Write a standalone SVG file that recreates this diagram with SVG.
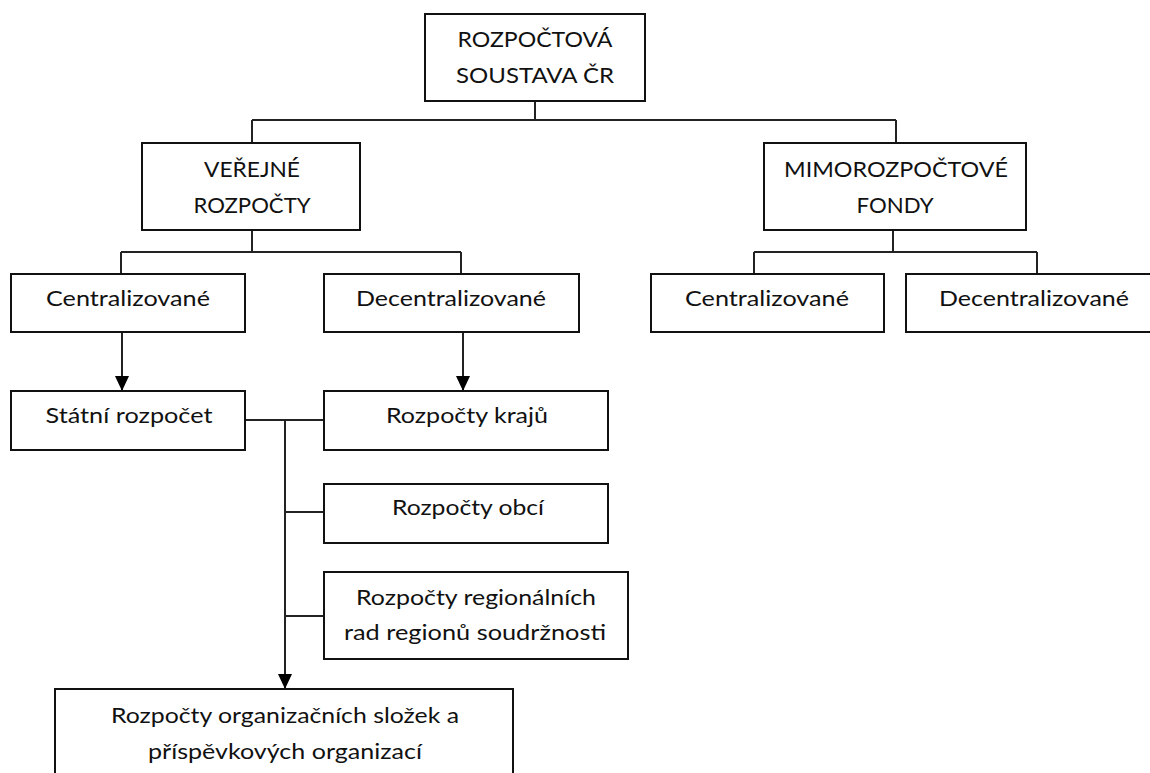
<svg xmlns="http://www.w3.org/2000/svg" width="1150" height="773" viewBox="0 0 1150 773">
<style>
.box{fill:#fff;stroke:#111;stroke-width:2}
.ln{fill:none;stroke:#222;stroke-width:2}
text{font-family:Lato,"Open Sans","Liberation Sans",sans-serif;font-size:22px;fill:#111;text-anchor:middle}
</style>
<defs>
<marker id="arr" viewBox="0 0 15 14" refX="15" refY="7" markerWidth="15" markerHeight="14" markerUnits="userSpaceOnUse" orient="auto">
<path d="M0,0 L15,7 L0,14 z" fill="#000"/>
</marker>
</defs>
<rect width="1150" height="773" fill="#fff"/>
<g id="connectors">
<path class="ln" d="M535,101 V120 M252,120 H896 M252,120 V143 M896,120 V143"/>
<path class="ln" d="M252,230 V252 M121,252 H461 M121,252 V274 M461,252 V274"/>
<path class="ln" d="M893,230 V252 M754,252 H1037 M754,252 V274 M1037,252 V274"/>
<path class="ln" d="M122,332 V391" marker-end="url(#arr)"/>
<path class="ln" d="M463,332 V391" marker-end="url(#arr)"/>
<path class="ln" d="M245,420 H324 M285,512 H324 M285,616 H324"/>
<path class="ln" d="M285,420 V689" marker-end="url(#arr)"/>
</g>
<g id="n-root"><rect class="box" x="425" y="14" width="220" height="87"/>
<text x="535" y="47" textLength="155" lengthAdjust="spacingAndGlyphs">ROZPOČTOVÁ</text>
<text x="535" y="83" textLength="158" lengthAdjust="spacingAndGlyphs">SOUSTAVA ČR</text></g>
<g id="n-verejne"><rect class="box" x="142" y="143" width="218" height="87"/>
<text x="252" y="177" textLength="96" lengthAdjust="spacingAndGlyphs">VEŘEJNÉ</text>
<text x="252" y="213" textLength="117" lengthAdjust="spacingAndGlyphs">ROZPOČTY</text></g>
<g id="n-mimo"><rect class="box" x="764" y="143" width="262" height="87"/>
<text x="896" y="177" textLength="224" lengthAdjust="spacingAndGlyphs">MIMOROZPOČTOVÉ</text>
<text x="895" y="213" textLength="77" lengthAdjust="spacingAndGlyphs">FONDY</text></g>
<g id="n-central1"><rect class="box" x="11" y="274" width="234" height="58"/>
<text x="128" y="306" textLength="164" lengthAdjust="spacingAndGlyphs">Centralizované</text></g>
<g id="n-decentral1"><rect class="box" x="324" y="274" width="255" height="58"/>
<text x="451" y="306" textLength="190" lengthAdjust="spacingAndGlyphs">Decentralizované</text></g>
<g id="n-central2"><rect class="box" x="651" y="274" width="233" height="58"/>
<text x="767" y="306" textLength="164" lengthAdjust="spacingAndGlyphs">Centralizované</text></g>
<g id="n-decentral2"><rect class="box" x="906" y="274" width="260" height="58"/>
<text x="1034" y="306" textLength="190" lengthAdjust="spacingAndGlyphs">Decentralizované</text></g>
<g id="n-statni"><rect class="box" x="11" y="391" width="234" height="59"/>
<text x="129" y="423" textLength="167" lengthAdjust="spacingAndGlyphs">Státní rozpočet</text></g>
<g id="n-kraje"><rect class="box" x="324" y="391" width="284" height="59"/>
<text x="467" y="423" textLength="162" lengthAdjust="spacingAndGlyphs">Rozpočty krajů</text></g>
<g id="n-obce"><rect class="box" x="324" y="484" width="284" height="59"/>
<text x="468" y="515" textLength="152" lengthAdjust="spacingAndGlyphs">Rozpočty obcí</text></g>
<g id="n-regiony"><rect class="box" x="324" y="572" width="304" height="87"/>
<text x="476" y="605" textLength="240" lengthAdjust="spacingAndGlyphs">Rozpočty regionálních</text>
<text x="475" y="640" textLength="262" lengthAdjust="spacingAndGlyphs">rad regionů soudržnosti</text></g>
<g id="n-organizace"><rect class="box" x="55" y="689" width="458" height="100"/>
<text x="285" y="723" textLength="348" lengthAdjust="spacingAndGlyphs">Rozpočty organizačních složek a</text>
<text x="285" y="759" textLength="274" lengthAdjust="spacingAndGlyphs">příspěvkových organizací</text></g>
</svg>
